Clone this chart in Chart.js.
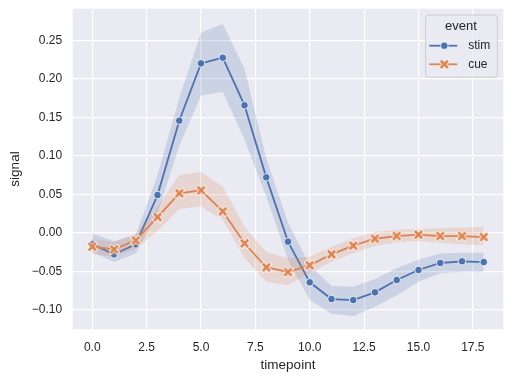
<!DOCTYPE html>
<html>
<head>
<meta charset="utf-8">
<script src="https://cdn.jsdelivr.net/npm/chart.js@4/dist/chart.umd.min.js"></script>
<style>
  html, body { margin: 0; padding: 0; background: #ffffff; }
  #wrap { width: 512px; height: 381px; }
</style>
</head>
<body>
<div id="wrap"><canvas id="c" width="512" height="381"></canvas></div>
<script>
// ---- data ----
const timepoints = [0,1,2,3,4,5,6,7,8,9,10,11,12,13,14,15,16,17,18];
const stimMean  = [-0.015,-0.028,-0.015,0.049,0.1456,0.220,0.2274,0.1656,0.072,-0.0115,-0.0643,-0.086,-0.0873,-0.0773,-0.0613,-0.0483,-0.0392,-0.037,-0.038];
const stimUpper = [-0.001,-0.011,-0.003,0.075,0.175,0.260,0.271,0.213,0.097,0.013,-0.042,-0.069,-0.070,-0.060,-0.046,-0.035,-0.027,-0.026,-0.026];
const stimLower = [-0.025,-0.038,-0.027,0.025,0.113,0.178,0.183,0.121,0.047,-0.035,-0.087,-0.105,-0.108,-0.096,-0.081,-0.0635,-0.0526,-0.0505,-0.0505];
const cueMean   = [-0.018,-0.0215,-0.0098,0.0205,0.0513,0.0552,0.0279,-0.0136,-0.0448,-0.0509,-0.0422,-0.0279,-0.0167,-0.0077,-0.0042,-0.0024,-0.0042,-0.0042,-0.0055];
const cueUpper  = [-0.008,-0.012,-0.001,0.034,0.075,0.079,0.060,0.008,-0.025,-0.033,-0.031,-0.018,-0.007,0.001,0.004,0.005,0.006,0.007,0.0075];
const cueLower  = [-0.028,-0.031,-0.021,0.002,0.031,0.034,0.017,-0.033,-0.0635,-0.068,-0.0526,-0.0375,-0.0266,-0.0167,-0.0125,-0.0106,-0.013,-0.015,-0.0158];
const xTicks = [0.0,2.5,5.0,7.5,10.0,12.5,15.0,17.5];
const yTicks = [-0.10,-0.05,0.00,0.05,0.10,0.15,0.20,0.25];
const seriesNames = ['stim','cue'];
const legendTitle = 'event';
const xTitle = 'timepoint';
const yTitle = 'signal';

// ---- styling ----
const BLUE = '#4C72B0', ORANGE = '#DD8452';
const TEXT = '#262626';
const FONT = '"Liberation Sans", Arial, sans-serif';
Chart.defaults.font.family = FONT;
Chart.defaults.color = TEXT;

function xMarker(color) {
  const s = 11;
  const cv = document.createElement('canvas');
  cv.width = s; cv.height = s;
  const g = cv.getContext('2d');
  const a = 1.8, b = s - 1.8;
  g.lineCap = 'butt';
  g.strokeStyle = '#ffffff'; g.lineWidth = 4.2;
  g.beginPath(); g.moveTo(a - 0.6, a - 0.6); g.lineTo(b + 0.6, b + 0.6);
  g.moveTo(b + 0.6, a - 0.6); g.lineTo(a - 0.6, b + 0.6); g.stroke();
  g.strokeStyle = color; g.lineWidth = 2.7;
  g.beginPath(); g.moveTo(a, a); g.lineTo(b, b);
  g.moveTo(b, a); g.lineTo(a, b); g.stroke();
  return cv;
}
const cueMarker = xMarker(ORANGE);

const pts = arr => timepoints.map((t, i) => ({ x: t, y: arr[i] }));
function rgba(hex, a) {
  const n = parseInt(hex.slice(1), 16);
  return `rgba(${(n >> 16) & 255},${(n >> 8) & 255},${n & 255},${a})`;
}

const bandCommon = { borderWidth: 0, pointRadius: 0, pointHoverRadius: 0, tension: 0 };

const legendPlugin = {
  id: 'sbLegend',
  afterDraw(chart) {
    const ctx = chart.ctx;
    const ca = chart.chartArea;
    const w = 71.6, h = 62.3;
    const x0 = ca.right - 6 - w, y0 = ca.top + 6.3;
    ctx.save();
    ctx.beginPath();
    ctx.roundRect(x0, y0, w, h, 3);
    ctx.fillStyle = 'rgba(234,234,242,0.8)';
    ctx.fill();
    ctx.strokeStyle = '#cccccc';
    ctx.lineWidth = 1;
    ctx.stroke();
    ctx.fillStyle = TEXT;
    ctx.textBaseline = 'middle';
    ctx.textAlign = 'center';
    ctx.font = '13px ' + FONT;
    ctx.fillText(legendTitle, x0 + 35.3, y0 + 11.7);
    ctx.textAlign = 'left';
    ctx.font = '12px ' + FONT;
    const rows = [
      { name: seriesNames[0], color: BLUE, y: y0 + 30.7, circle: true },
      { name: seriesNames[1], color: ORANGE, y: y0 + 49.3, circle: false }
    ];
    rows.forEach(r => {
      ctx.strokeStyle = r.color;
      ctx.lineWidth = 1.8;
      ctx.beginPath();
      ctx.moveTo(x0 + 3.6, r.y); ctx.lineTo(x0 + 31.6, r.y); ctx.stroke();
      const mx = x0 + 18.6;
      if (r.circle) {
        ctx.beginPath(); ctx.arc(mx, r.y, 3.8, 0, Math.PI * 2);
        ctx.fillStyle = r.color; ctx.fill();
        ctx.strokeStyle = '#ffffff'; ctx.lineWidth = 0.8; ctx.stroke();
      } else {
        ctx.drawImage(cueMarker, mx - cueMarker.width / 2, r.y - cueMarker.height / 2);
      }
      ctx.fillStyle = TEXT;
      ctx.fillText(r.name, x0 + 42.5, r.y);
    });
    ctx.restore();
  }
};

const bgPlugin = {
  id: 'axBg',
  beforeDraw(chart) {
    const { ctx, chartArea: a } = chart;
    ctx.save();
    ctx.fillStyle = '#EAEAF2';
    ctx.fillRect(a.left, a.top, a.right - a.left, a.bottom - a.top);
    ctx.restore();
  }
};

new Chart(document.getElementById('c'), {
  type: 'line',
  data: {
    datasets: [
      { label: 'stimUpper', data: pts(stimUpper), fill: '+1', backgroundColor: rgba(BLUE, 0.2), borderColor: 'transparent', order: 6, ...bandCommon },
      { label: 'stimLower', data: pts(stimLower), fill: false, borderColor: 'transparent', order: 6, ...bandCommon },
      { label: seriesNames[0], data: pts(stimMean), borderColor: BLUE, backgroundColor: BLUE, borderWidth: 1.8,
        pointStyle: 'circle', pointRadius: 3.8, pointBorderColor: '#ffffff', pointBorderWidth: 0.8, pointBackgroundColor: BLUE,
        fill: false, order: 5, tension: 0 },
      { label: 'cueUpper', data: pts(cueUpper), fill: '+1', backgroundColor: rgba(ORANGE, 0.2), borderColor: 'transparent', order: 4, ...bandCommon },
      { label: 'cueLower', data: pts(cueLower), fill: false, borderColor: 'transparent', order: 4, ...bandCommon },
      { label: seriesNames[1], data: pts(cueMean), borderColor: ORANGE, backgroundColor: ORANGE, borderWidth: 1.8,
        pointStyle: cueMarker, pointRadius: 4, fill: false, order: 3, tension: 0 }
    ]
  },
  options: {
    responsive: false,
    animation: false,
    events: [],
    layout: { padding: { left: 0, right: 8.7, top: 8.7, bottom: 0 } },
    plugins: { legend: { display: false }, tooltip: { enabled: false } },
    scales: {
      x: {
        type: 'linear', min: -0.9, max: 18.9,
        afterBuildTicks: s => { s.ticks = xTicks.map(v => ({ value: v })); },
        afterFit: s => { s.height = 381 - 329.3; s.paddingLeft = 0; s.paddingRight = 0; },
        grid: { color: '#ffffff', lineWidth: 1.2, drawTicks: false },
        border: { display: false },
        ticks: { padding: 11.5, font: { size: 12 }, color: TEXT, callback: v => v.toFixed(1) },
        title: { display: true, text: xTitle, font: { size: 13.5 }, color: TEXT, padding: { top: 0, bottom: 7.9 } }
      },
      y: {
        type: 'linear', min: -0.1253, max: 0.291,
        afterBuildTicks: s => { s.ticks = yTicks.map(v => ({ value: v })); },
        afterFit: s => { s.width = 72.7; s.paddingTop = 0; s.paddingBottom = 0; },
        grid: { color: '#ffffff', lineWidth: 1.2, drawTicks: false },
        border: { display: false },
        ticks: { padding: 10.5, font: { size: 12 }, color: TEXT,
          callback: v => (v < -1e-9 ? '\u2212' : '') + Math.abs(v).toFixed(2) },
        title: { display: true, text: yTitle, font: { size: 13.5 }, color: TEXT, padding: { top: 6.9, bottom: 0 } }
      }
    }
  },
  plugins: [bgPlugin, legendPlugin]
});
</script>
</body>
</html>
